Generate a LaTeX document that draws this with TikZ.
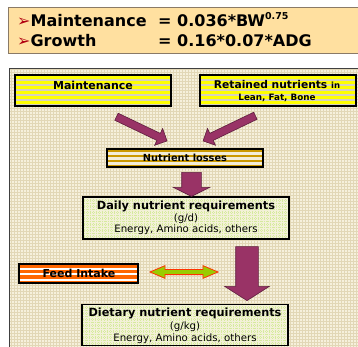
\documentclass[tikz,border=0pt]{standalone}
\usepackage{fontspec}
\setmainfont{DejaVu Sans}
\usetikzlibrary{shapes.arrows,calc}
\definecolor{topfill}{HTML}{FFE0A0}
\definecolor{topline}{HTML}{8A7A66}
\definecolor{bullet}{HTML}{B00010}
\definecolor{panelbg}{HTML}{F6F0DC}
\definecolor{panelgrid}{HTML}{E2D7B6}
\definecolor{yel}{HTML}{FFFF00}
\definecolor{yelgap}{HTML}{D6D2BE}
\definecolor{gold}{HTML}{CC9900}
\definecolor{goldgap}{HTML}{F3EDD8}
\definecolor{orng}{HTML}{FF6600}
\definecolor{greenbg}{HTML}{F3F1D8}
\definecolor{greengrid}{HTML}{D6EA9E}
\definecolor{purp}{HTML}{993366}
\definecolor{purpline}{HTML}{5E1E3E}
\definecolor{lime}{HTML}{99CC00}
\definecolor{redline}{HTML}{FF3300}
\tikzset{
  gridfill/.style n args={3}{fill=#1, path picture={
      \draw[#2, line width=#3] ([xshift=-1pt,yshift=-1pt]path picture bounding box.south west)
        grid[step=3pt] ([xshift=1pt,yshift=1pt]path picture bounding box.north east);}},
  stripes/.style n args={5}{fill=#1, path picture={
      \foreach \k in {0,...,12}{
        \fill[#2] ([yshift={-#4pt-\k*#3pt}]path picture bounding box.north west)
          rectangle ([yshift={-#4pt-\k*#3pt-#5pt}]path picture bounding box.north east);}}},
  box/.style={draw=black, line width=1.3pt, inner sep=0pt},
  lbl/.style={font=\bfseries\fontsize{11}{12}\selectfont, inner sep=0pt},
  sub/.style={font=\fontsize{10.2}{11}\selectfont, inner sep=0pt},
  parrow/.style={single arrow, draw=purpline, fill=purp, line width=0.6pt,
      inner xsep=0pt, minimum width=1pt},
}
\begin{document}
\begin{tikzpicture}[x=1pt,y=-1pt]
\useasboundingbox (0,0) rectangle (358,347);
\clip (0,0) rectangle (358,347);
\fill[white] (0,0) rectangle (358,347);

% header box
\node[draw=topline, fill=topfill, line width=1pt, anchor=north west,
      minimum width=370pt, minimum height=46pt, inner sep=0pt] (hdr) at (8,7) {};
\node[anchor=base west, inner sep=0pt, font=\bfseries\fontsize{16}{18}\selectfont] (h1a) at (17,27)
  {\textcolor{bullet}{➢}Maintenance};
\node[anchor=base west, inner sep=0pt, font=\bfseries\fontsize{16}{18}\selectfont] (h1b) at (158,27)
  {= 0.036*BW\raisebox{7pt}{\fontsize{9.5}{10}\selectfont 0.75}};
\node[anchor=base west, inner sep=0pt, font=\bfseries\fontsize{16}{18}\selectfont] (h2a) at (17,47)
  {\textcolor{bullet}{➢}Growth};
\node[anchor=base west, inner sep=0pt, font=\bfseries\fontsize{16}{18}\selectfont] (h2b) at (158,47)
  {= 0.16*0.07*ADG};

% panel
\node[draw=black!75, line width=1pt, gridfill={panelbg}{panelgrid}{0.9pt}, anchor=north west,
      minimum width=370pt, minimum height=300pt, inner sep=0pt] (panel) at (8.5,68.5) {};

% boxes
\node[box, stripes={yelgap}{yel}{5.1}{1.0}{3.0}, minimum width=156pt, minimum height=31pt] (maint) at (93,90.5) {};
\node[lbl] (maintT) at (93,85) {Maintenance};

\node[box, stripes={yelgap}{yel}{5.1}{1.0}{3.0}, minimum width=156pt, minimum height=31pt] (ret) at (278,90.5) {};
\node[lbl, font=\bfseries\fontsize{10.7}{12}\selectfont] (retT) at (277,85) {Retained nutrients {\fontsize{8.5}{10}\selectfont in}};
\node[lbl, font=\bfseries\fontsize{8.8}{10}\selectfont] (retT2) at (277,98) {Lean, Fat, Bone};

\node[box, stripes={goldgap}{gold}{5}{0.6}{2.6}, minimum width=156pt, minimum height=18pt] (loss) at (185,158) {};
\node[lbl, font=\bfseries\fontsize{9.8}{10}\selectfont] (lossT) at (185,158) {Nutrient losses};

\node[box, gridfill={greenbg}{greengrid,dashed,dash pattern=on 1pt off 1pt}{0.6pt}, minimum width=206pt, minimum height=42pt] (daily) at (186,218) {};
\node[lbl, font=\bfseries\fontsize{11.3}{12}\selectfont] (dailyT) at (186,206) {Daily nutrient requirements};
\node[sub] (dailyU) at (186,219) {(g/d)};
\node[sub] (dailyE) at (186,230) {Energy, Amino acids, others};

\node[box, stripes={white}{orng}{5.4}{0.6}{3.2}, minimum width=119pt, minimum height=19pt] (feed) at (78.5,273.5) {};
\node[lbl] (feedT) at (79,273.5) {Feed Intake};

\node[box, gridfill={greenbg}{greengrid,dashed,dash pattern=on 1pt off 1pt}{0.6pt}, minimum width=206pt, minimum height=41pt] (diet) at (185,325) {};
\node[lbl, font=\bfseries\fontsize{11.3}{12}\selectfont] (dietT) at (185,313) {Dietary nutrient requirements};
\node[sub] (dietU) at (185,327) {(g/kg)};
\node[sub] (dietE) at (185,338.5) {Energy, Amino acids, others};

% arrows
\node[parrow, inner ysep=3.6pt, single arrow head extend=5.4pt, minimum height=56pt, rotate=-25.6] (a1) at (140,128) {};
\node[parrow, inner ysep=3.6pt, single arrow head extend=5.4pt, minimum height=58pt, rotate=-154.3] (a2) at (231,127.5) {};
\node[parrow, inner ysep=9.5pt, single arrow head extend=8.5pt, single arrow tip angle=127, minimum height=24pt, rotate=-90] (a3) at (191.5,182) {};
\node[parrow, inner ysep=11pt, single arrow head extend=11pt, single arrow tip angle=115, minimum height=54pt, rotate=-90] (a4) at (247,270) {};
\node[double arrow, draw=redline, fill=lime, line width=0.8pt, inner xsep=0pt, inner ysep=2.2pt,
      double arrow head extend=3.8pt, double arrow tip angle=46, minimum height=68pt] (a5) at (184,272) {};
\end{tikzpicture}
\end{document}
